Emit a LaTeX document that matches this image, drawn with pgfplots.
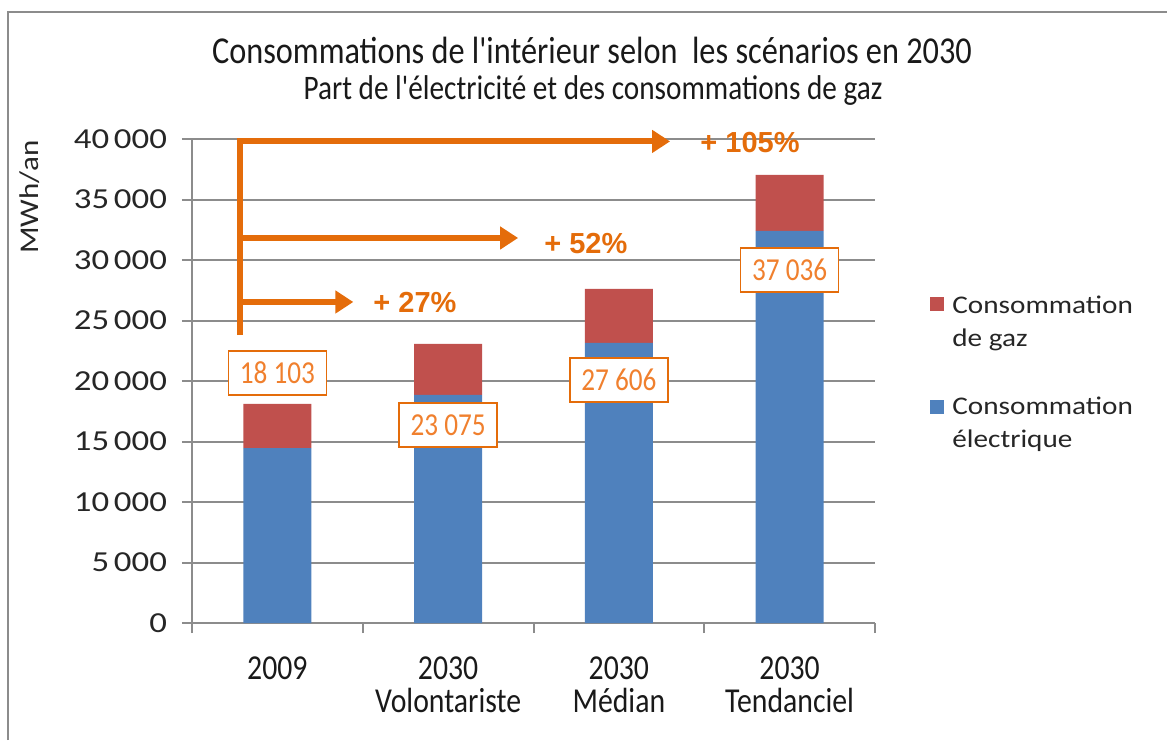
\documentclass[border=0pt]{standalone}
\usepackage{fontspec}
\setmainfont{Carlito}
\newfontfamily\condfont[FakeStretch=0.85]{Carlito}
\newfontfamily\widefont[FakeStretch=1.15]{Carlito}
\newfontfamily\tickfont[FakeStretch=1.2]{Carlito}
\newfontfamily\arialfont{Liberation Sans}
\usepackage{pgfplots}
\pgfplotsset{compat=1.18}
\usetikzlibrary{arrows.meta}
\definecolor{elec}{HTML}{4F81BD}
\definecolor{gaz}{HTML}{C0504D}
\definecolor{orng}{HTML}{E46C0A}
\definecolor{lorng}{HTML}{F0802E}
\definecolor{axgray}{HTML}{8C8C8C}
\begin{document}
\begin{tikzpicture}
\useasboundingbox (0,0) rectangle (583.5pt,370pt);
\draw[axgray, line width=1pt] (4pt,0) -- (4pt,364pt) -- (583.5pt,364pt);
\node[font=\condfont\fontsize{19}{22}\selectfont, text=black!90] at (296pt,345pt) {Consommations de l'intérieur selon\ \ les scénarios en 2030};
\node[font=\condfont\fontsize{17.2}{19}\selectfont, text=black!90] at (296.5pt,324.5pt) {Part de l'électricité et des consommations de gaz};
\node[rotate=90, font=\widefont\fontsize{13.5}{15}\selectfont, text=black!85] at (15pt,271.5pt) {MWh/an};
% legend
\fill[gaz] (465pt,214.5pt) rectangle (472pt,221.5pt);
\node[anchor=west, align=left, inner sep=0pt, font=\widefont\fontsize{12.7}{16.5}\selectfont, text=black!85] at (476pt,208.25pt) {Consommation\\de gaz};
\fill[elec] (465pt,163pt) rectangle (472pt,170pt);
\node[anchor=west, align=left, inner sep=0pt, font=\widefont\fontsize{12.7}{16.5}\selectfont, text=black!85] at (476pt,157.75pt) {Consommation\\électrique};
\begin{axis}[
  at={(96pt,58.5pt)}, anchor=south west,
  width=341.5pt, height=242pt, scale only axis,
  xmin=-0.5, xmax=3.5, ymin=0, ymax=40000,
  ybar stacked, bar width=34pt,
  axis x line*=bottom, axis y line*=left,
  axis line style={axgray, line width=1pt, -},
  ymajorgrids, major grid style={axgray, line width=1pt},
  ytick={0,5000,...,40000},
  scaled y ticks=false,
  tick align=outside, major tick length=5pt,
  tick style={axgray, line width=1pt},
  yticklabel style={font=\tickfont\fontsize{14.5}{15}\selectfont, text=black!85, xshift=-4pt},
  /pgf/number format/.cd, 1000 sep={\,}, assume math mode=true, /pgfplots/.cd,
  xtick={-0.5,0.5,1.5,2.5,3.5}, xticklabels={},
  extra x ticks={0,1,2,3},
  extra x tick labels={2009, 2030\\Volontariste, 2030\\Médian, 2030\\Tendanciel},
  extra x tick style={major tick length=0pt, tick label style={align=center, font=\condfont\fontsize{17.5}{16.5}\selectfont, text=black!90, yshift=-13.5pt}},
  clip=false,
]
\addplot[fill=elec, draw=none] coordinates {(0,14450) (1,18850) (2,23150) (3,32400)};
\addplot[fill=gaz, draw=none] coordinates {(0,3653) (1,4225) (2,4456) (3,4636)};
\draw[orng, line width=3pt, -{Triangle[length=9pt,width=11pt]}] (axis cs:-0.22,23800) |- (axis cs:2.30,39800);
\draw[orng, line width=3pt, -{Triangle[length=9pt,width=11pt]}] (axis cs:-0.22,31820) -- (axis cs:1.41,31820);
\draw[orng, line width=3pt, -{Triangle[length=9pt,width=11pt]}] (axis cs:-0.22,26530) -- (axis cs:0.445,26530);
\node[text=orng, font=\arialfont\bfseries\fontsize{14.5}{16}\selectfont] at (axis cs:2.768,39750) {+ 105\%};
\node[text=orng, font=\arialfont\bfseries\fontsize{14.5}{16}\selectfont] at (axis cs:1.807,31400) {+ 52\%};
\node[text=orng, font=\arialfont\bfseries\fontsize{14.5}{16}\selectfont] at (axis cs:0.806,26450) {+ 27\%};
\coordinate (l0) at (axis cs:0,20660);
\coordinate (l1) at (axis cs:1,16360);
\coordinate (l2) at (axis cs:2,20080);
\coordinate (l3) at (axis cs:3,29170);
\end{axis}
\tikzset{lbl/.style={draw=orng, line width=0.75pt, fill=white, text=lorng, minimum width=49pt, minimum height=22pt, inner sep=1pt, font=\condfont\fontsize{16}{18}\selectfont}}
\node[lbl] at (l0) {18 103};
\node[lbl] at (l1) {23 075};
\node[lbl] at (l2) {27 606};
\node[lbl] at (l3) {37 036};
\end{tikzpicture}
\end{document}
